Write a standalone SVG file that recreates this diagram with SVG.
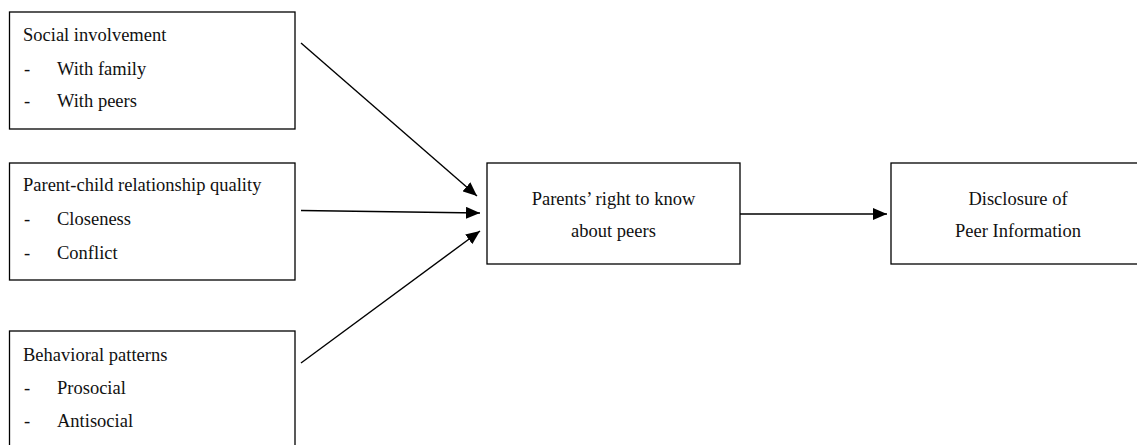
<svg xmlns="http://www.w3.org/2000/svg" width="1137" height="445" viewBox="0 0 1137 445">
<style>
.box{fill:#fff;stroke:#000;stroke-width:1.3}
.t{font-family:"Liberation Serif","Times New Roman",serif;font-size:18.5px;fill:#111}
.c{text-anchor:middle}
.edge{stroke:#000;stroke-width:1.4;fill:none}
</style>
<defs>
<marker id="ah" viewBox="0 0 14 12" refX="14" refY="6" markerWidth="14" markerHeight="12" markerUnits="userSpaceOnUse" orient="auto">
<path d="M0,0 L14,6 L0,12 Z" fill="#000"/>
</marker>
</defs>
<rect width="1137" height="445" fill="#fff"/>
<g id="n-social">
<rect class="box" x="9.5" y="12" width="285.5" height="117"/>
<text class="t" x="23" y="41">Social involvement</text>
<text class="t" x="24" y="75">-</text><text class="t" x="57" y="75">With family</text>
<text class="t" x="24" y="107">-</text><text class="t" x="57" y="107">With peers</text>
</g>
<g id="n-parentchild">
<rect class="box" x="9.5" y="163" width="285.5" height="117"/>
<text class="t" x="23" y="191">Parent-child relationship quality</text>
<text class="t" x="24" y="225">-</text><text class="t" x="57" y="225">Closeness</text>
<text class="t" x="24" y="259">-</text><text class="t" x="57" y="259">Conflict</text>
</g>
<g id="n-behavior">
<rect class="box" x="9.5" y="331" width="285.5" height="130"/>
<text class="t" x="23" y="361">Behavioral patterns</text>
<text class="t" x="24" y="394">-</text><text class="t" x="57" y="394">Prosocial</text>
<text class="t" x="24" y="427">-</text><text class="t" x="57" y="427">Antisocial</text>
</g>
<g id="n-right">
<rect class="box" x="487" y="163" width="253" height="101"/>
<text class="t c" x="613.5" y="205">Parents’ right to know</text>
<text class="t c" x="613.5" y="237">about peers</text>
</g>
<g id="n-disclosure">
<rect class="box" x="891" y="163" width="255" height="101"/>
<text class="t c" x="1018" y="205">Disclosure of</text>
<text class="t c" x="1018" y="237">Peer Information</text>
</g>
<g id="connectors">
<line class="edge" x1="301" y1="43" x2="477" y2="196" marker-end="url(#ah)"/>
<line class="edge" x1="301" y1="210.5" x2="480" y2="213" marker-end="url(#ah)"/>
<line class="edge" x1="301" y1="363" x2="480" y2="231" marker-end="url(#ah)"/>
<line class="edge" x1="740" y1="214" x2="887" y2="214" marker-end="url(#ah)"/>
</g>
</svg>
